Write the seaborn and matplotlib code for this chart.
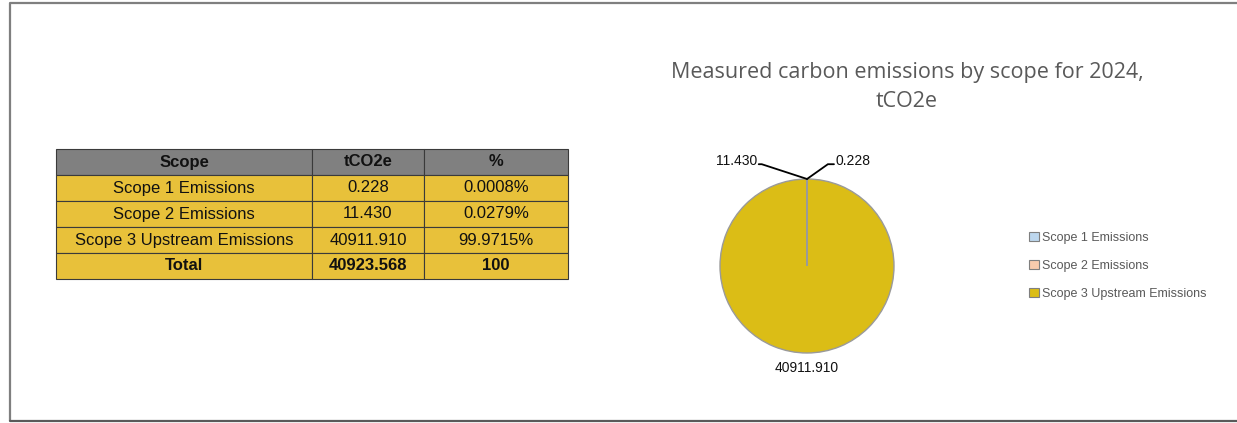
import matplotlib
matplotlib.use("Agg")
import matplotlib.pyplot as plt
from matplotlib.patches import Patch
import numpy as np
import seaborn as sns

# Emissions by scope, tCO2e
scopes = ["Scope 1 Emissions", "Scope 2 Emissions", "Scope 3 Upstream Emissions"]
emissions = [0.228, 11.430, 40911.910]
shares = ["0.0008%", "0.0279%", "99.9715%"]
total_label = ["Total", "40923.568", "100"]
columns = ["Scope", "tCO2e", "%"]
value_labels = ["0.228", "11.430", "40911.910"]

sns.set_theme(style="white")
plt.rcParams["font.family"] = ["Liberation Sans", "DejaVu Sans"]

slice_colors = ["#BDD7EE", "#F8CBAD", "#DBBD16"]
header_color = "#808080"
body_color = "#E8C13A"
text_grey = "#595959"

W, H = 1237, 423
fig = plt.figure(figsize=(W / 100, H / 100), dpi=100)
fig.patch.set_facecolor("white")

# outer frame
frame = fig.add_axes([0, 0, 1, 1])
frame.set_xlim(0, W)
frame.set_ylim(H, 0)
frame.axis("off")
frame.plot([10, 10, W + 5], [421, 3, 3], color="#7F7F7F", lw=1.6, solid_capstyle="butt")
frame.plot([10, W + 5], [421, 421], color="#5A5A5A", lw=1.6)

# summary table
tab_ax = fig.add_axes([56 / W, (H - 279) / H, 512 / W, 130 / H])
tab_ax.axis("off")
cell_text = [[s, f"{v:.3f}", p] for s, v, p in zip(scopes, emissions, shares)]
cell_text.append(total_label)
table = tab_ax.table(cellText=cell_text, colLabels=columns,
                     colWidths=[256, 112, 144], cellLoc="center",
                     bbox=[0, 0, 1, 1])
table.auto_set_font_size(False)
n_rows = len(cell_text) + 1
for (r, c), cell in table.get_celld().items():
    cell.set_edgecolor("#3A3A3A")
    cell.set_linewidth(0.8)
    txt = cell.get_text()
    txt.set_fontsize(12)
    txt.set_color("#111111")
    if r == 0:
        cell.set_facecolor(header_color)
        txt.set_fontweight("bold")
    else:
        cell.set_facecolor(body_color)
        if r == n_rows - 1:
            txt.set_fontweight("bold")

# title
fig.text(907 / W, 1 - 87 / H, "Measured carbon emissions by scope for 2024,\ntCO2e",
         ha="center", va="center", fontsize=15.5, color=text_grey,
         linespacing=1.45, family=["Open Sans", "DejaVu Sans"])

# pie
R = 87
pie_ax = fig.add_axes([(807 - R) / W, (H - 266 - R) / H, 2 * R / W, 2 * R / H])
wedges, _ = pie_ax.pie(emissions, colors=slice_colors, startangle=90,
                       counterclock=False, radius=1,
                       wedgeprops=dict(edgecolor="#9A9A9A", linewidth=1.0))
pie_ax.set_xlim(-1, 1)
pie_ax.set_ylim(-1, 1)
pie_ax.set_aspect("equal")
pie_ax.axis("off")

# leader lines and value labels for the two thin slices
label_pos = {0: (0.33, 1.17, "left", 0.24), 1: (-0.575, 1.17, "right", -0.52)}
for i, (xl, yl, ha, xe) in label_pos.items():
    w = wedges[i]
    ang = np.deg2rad((w.theta1 + w.theta2) / 2)
    ax_, ay_ = np.cos(ang), np.sin(ang)
    xend = xl - 0.02 if ha == "left" else xl + 0.02
    pie_ax.plot([ax_, xe, xend], [ay_, yl, yl], color="black", lw=1.3,
                clip_on=False, solid_joinstyle="miter")
    pie_ax.text(xl, yl + 0.04, value_labels[i], ha=ha, va="center",
                fontsize=10, color="#111111", clip_on=False)
pie_ax.text(0, -1.17, value_labels[2], ha="center", va="center",
            fontsize=10, color="#111111", clip_on=False)

# legend
handles = [Patch(facecolor=c, edgecolor="#7F7F7F", linewidth=0.8) for c in slice_colors]
leg = fig.legend(handles, scopes, loc="center left",
                 bbox_to_anchor=(1018 / W, 1 - 266 / H), frameon=False,
                 fontsize=9, handlelength=0.75, handleheight=0.75,
                 handletextpad=0.3, labelspacing=1.3)
for t in leg.get_texts():
    t.set_color(text_grey)

fig.savefig("out.png", dpi=100, facecolor="white")
